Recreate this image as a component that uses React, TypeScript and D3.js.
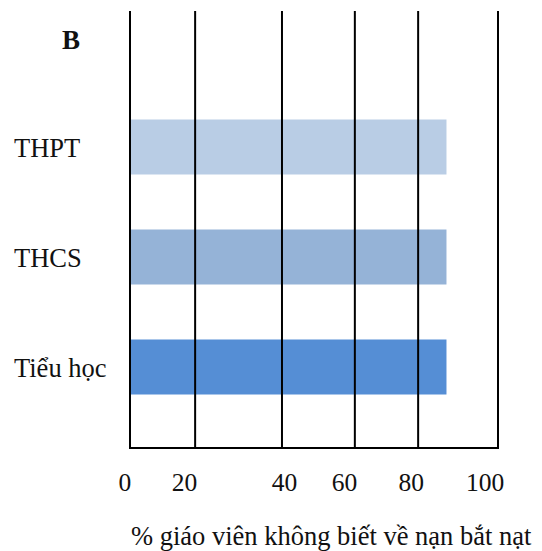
import React from "react";
import * as d3 from "d3";

const categories = ["THPT", "THCS", "Tiểu học"];
const values = [86, 86, 86];
const barColors = ["#B9CDE5", "#95B3D7", "#558ED5"];
// gridline values (irregularly placed in the reference)
const gridValues = [0, 17.7, 41.3, 61.1, 78.3, 100];
const tickLabels = ["0", "20", "40", "60", "80", "100"];
const tickLabelAt = [-1.4, 14.8, 42, 58.3, 76.4, 96.5];
const panelLabel = "B";
const xTitle = "% giáo viên không biết về nạn bắt nạt";

export default function App() {
  const W = 542;
  const H = 551;
  const x = d3.scaleLinear().domain([0, 100]).range([130, 498]);
  const y = d3.scaleBand().domain(categories).range([64.5, 449.5]).padding(0.5);
  const gridTop = 11;
  const gridBottom = 448;
  const font = "'Liberation Serif', 'Times New Roman', serif";

  return (
    <svg
      width={W}
      height={H}
      style={{ position: "absolute", left: 0, top: 0, background: "#fff" }}
      fontFamily={font}
    >
      {categories.map((c, i) => (
        <rect
          key={c}
          x={x(0)}
          y={y(c)}
          width={x(values[i]) - x(0)}
          height={y.bandwidth()}
          fill={barColors[i]}
        />
      ))}
      {gridValues.map((v, i) => (
        <line
          key={i}
          x1={x(v)}
          x2={x(v)}
          y1={gridTop}
          y2={gridBottom + 1}
          stroke="#000"
          strokeWidth={2}
        />
      ))}
      <line x1={x(0) - 1} x2={x(100) + 1} y1={gridBottom} y2={gridBottom} stroke="#000" strokeWidth={2} />
      {tickLabels.map((t, i) => (
        <text key={t} x={x(tickLabelAt[i])} y={491} textAnchor="middle" fontSize={25.5} fill="#111">
          {t}
        </text>
      ))}
      {categories.map((c) => (
        <text key={c} x={14} y={(y(c) as number) + y.bandwidth() / 2 + 10} fontSize={26.5} fill="#111">
          {c}
        </text>
      ))}
      <text x={62} y={49} fontSize={27} fontWeight="bold" fill="#111">
        {panelLabel}
      </text>
      <text x={131} y={545} fontSize={26.5} fill="#111">
        {xTitle}
      </text>
    </svg>
  );
}
